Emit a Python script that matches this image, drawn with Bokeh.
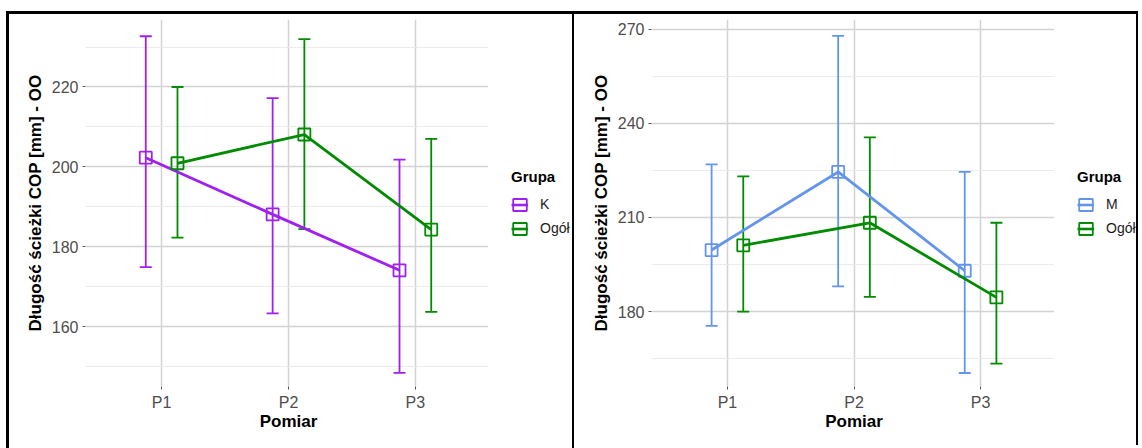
import numpy as np
from bokeh.plotting import figure
from bokeh.layouts import row
from bokeh.models import (FixedTicker, Whisker, ColumnDataSource, Legend, LegendItem,
                          TeeHead, Range1d)
from bokeh.embed import file_html
from bokeh.resources import INLINE

# ---------------- data ----------------
measures = ["P1", "P2", "P3"]
measure_pos = [1, 2, 3]

k_mean = [202.3, 188.1, 174.1]
k_upper = [232.7, 217.2, 201.8]
k_lower = [174.9, 163.3, 148.4]

ogol_left_mean = [200.9, 208.1, 184.3]
ogol_left_upper = [220.0, 232.0, 207.0]
ogol_left_lower = [182.3, 184.4, 163.7]

m_mean = [199.6, 224.5, 193.0]
m_upper = [226.9, 267.9, 224.5]
m_lower = [175.4, 188.0, 160.4]

ogol_right_mean = [201.1, 208.3, 184.5]
ogol_right_upper = [223.1, 235.5, 208.3]
ogol_right_lower = [180.0, 184.7, 163.4]

left_ticks = [160, 180, 200, 220]
left_minor = [150, 170, 190, 210, 230]
right_ticks = [180, 210, 240, 270]
right_minor = [165, 195, 225, 255]

PURPLE = "#A020F0"
GREEN = "#008B00"
BLUE = "#6495ED"
FONT = "Liberation Sans"
DODGE = 0.125
CANVAS_H = 434


def make_panel(grp_label, grp_color, grp_mean, grp_up, grp_lo,
               og_mean, og_up, og_lo, yr, ticks, minor, border_styles, left_border):
    p = figure(frame_width=403, frame_height=364,
               min_border_left=left_border, min_border_right=0,
               min_border_top=5, min_border_bottom=CANVAS_H - 5 - 364,
               x_range=Range1d(0.4, 3.6), y_range=Range1d(*yr),
               output_backend="svg", toolbar_location=None,
               background_fill_color="white", border_fill_color="white",
               styles=border_styles)
    p.outline_line_color = None

    series = [(grp_label, grp_color, grp_mean, grp_up, grp_lo, -DODGE),
              ("Ogół", GREEN, og_mean, og_up, og_lo, DODGE)]
    sources = []
    for label, color, mean, up, lo, off in series:
        src = ColumnDataSource(dict(x=np.array(measure_pos) + off,
                                    mean=mean, upper=up, lower=lo))
        sources.append((label, color, src))
        w = Whisker(base="x", upper="upper", lower="lower", source=src,
                    dimension="height", line_color=color, line_width=1.8,
                    upper_head=TeeHead(size=12, line_color=color, line_width=1.8),
                    lower_head=TeeHead(size=12, line_color=color, line_width=1.8))
        p.add_layout(w)
        p.line("x", "mean", source=src, line_color=color, line_width=2.8)
        p.scatter("x", "mean", source=src, marker="square", size=12,
                  fill_color=None, line_color=color, line_width=1.8)

    # grids
    p.xaxis.ticker = FixedTicker(ticks=measure_pos)
    p.xaxis.major_label_overrides = {pos: lab for pos, lab in zip(measure_pos, measures)}
    p.yaxis.ticker = FixedTicker(ticks=ticks, minor_ticks=minor)
    p.xgrid.grid_line_color = "#D3D3D3"
    p.xgrid.grid_line_width = 1.5
    p.ygrid.grid_line_color = "#D3D3D3"
    p.ygrid.grid_line_width = 1.5
    p.ygrid.minor_grid_line_color = "#EBEBEB"
    p.ygrid.minor_grid_line_width = 1.2

    for ax in (p.xaxis, p.yaxis):
        ax.axis_line_color = None
        ax.major_tick_line_color = "#555555"
        ax.major_tick_in = 0
        ax.major_tick_out = 3
        ax.minor_tick_line_color = None
        ax.major_label_text_font = FONT
        ax.major_label_text_font_size = "16px"
        ax.major_label_text_color = "#4D4D4D"
        ax.axis_label_text_font = FONT
        ax.axis_label_text_font_style = "bold"
        ax.axis_label_text_font_size = "17px"
        ax.axis_label_text_color = "black"
    p.xaxis.major_label_standoff = 4
    p.yaxis.major_label_standoff = 3
    p.xaxis.axis_label = "Pomiar"
    p.xaxis.axis_label_standoff = -2
    p.yaxis.axis_label = "Długość ścieżki COP [mm] - OO"
    p.yaxis.axis_label_standoff = 4
    return p, sources


def make_legend(sources, border_styles):
    # legend strip: the same data sources, outside this strip's visible ranges
    lg = figure(width=84, height=CANVAS_H, min_border=0,
                x_range=Range1d(-1, 0), y_range=Range1d(-1, 0),
                x_axis_type=None, y_axis_type=None,
                output_backend="svg", toolbar_location=None,
                background_fill_color="white", border_fill_color="white",
                styles=border_styles)
    lg.outline_line_color = None
    lg.xgrid.visible = False
    lg.ygrid.visible = False
    items = []
    for label, color, src in sources:
        lr = lg.line("x", "mean", source=src, line_color=color, line_width=2.6)
        rr = lg.rect("x", "mean", width=0.1, height=1, source=src,
                     fill_color=None, line_color=color, line_width=1.8)
        items.append(LegendItem(label=label, renderers=[lr, rr]))
    legend = Legend(items=items, title="Grupa", location=(23, 147),
                    background_fill_alpha=0, border_line_color=None,
                    padding=0, margin=0, spacing=8, glyph_width=17, glyph_height=15,
                    label_standoff=12, title_standoff=11,
                    title_text_font=FONT, title_text_font_style="bold",
                    title_text_font_size="15px", title_text_color="black",
                    label_text_font=FONT, label_text_font_size="14px",
                    label_text_color="#1A1A1A")
    lg.add_layout(legend)
    return lg


p1, src1 = make_panel("K", PURPLE, k_mean, k_upper, k_lower,
                      ogol_left_mean, ogol_left_upper, ogol_left_lower,
                      (145.0, 236.9), left_ticks, left_minor,
                      {"border-left": "3px solid black", "border-top": "3px solid black"}, 76)
lg1 = make_legend(src1, {"border-top": "3px solid black"})
p2, src2 = make_panel("M", BLUE, m_mean, m_upper, m_lower,
                      ogol_right_mean, ogol_right_upper, ogol_right_lower,
                      (156.1, 273.1), right_ticks, right_minor,
                      {"border-left": "2px solid black", "border-top": "3px solid black"}, 77)
lg2 = make_legend(src2, {"border-top": "3px solid black",
                         "border-right": "2px solid black"})

layout = row(p1, lg1, p2, lg2, margin=(11, 0, 0, 6), spacing=0)

open("out.html", "w").write(file_html(layout, INLINE))
